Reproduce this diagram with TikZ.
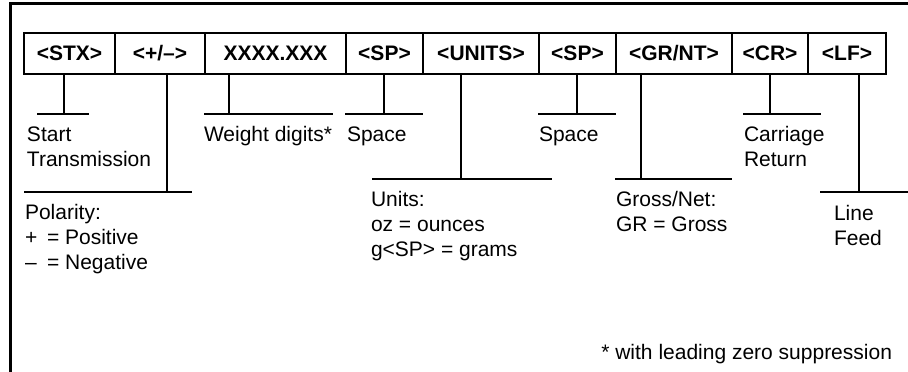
\documentclass[tikz,border=0pt]{standalone}
\usepackage{fontspec}
\setmainfont{Liberation Sans}
\begin{document}
\begin{tikzpicture}[x=1pt, y=-1pt,
  cell/.style={draw, line width=1.2pt, minimum height=41pt, inner sep=0pt,
    outer sep=0pt, font=\fontsize{21}{25}\selectfont\bfseries},
  lbl/.style={anchor=base west, inner sep=0pt, outer sep=0pt,
    font=\fontsize{21}{25}\selectfont},
  lead/.style={line width=1.3pt},
  frame/.style={line width=2.5pt}]
\clip (0,0) rectangle (908,372);
% open frame along the top and left
\draw[frame] (10.5,400) -- (10.5,3.5) -- (930,3.5);

% the transmitted fields
\node[cell, minimum width=91pt]  (stx)   at (69.5,53.5)  {<STX>};
\node[cell, minimum width=90pt]  (pm)    at (160,53.5)   {<+/–>};
\node[cell, minimum width=141pt] (wt)    at (275.5,53.5) {XXXX.XXX};
\node[cell, minimum width=77pt]  (spa)   at (384.5,53.5) {<SP>};
\node[cell, minimum width=116pt] (units) at (481,53.5)   {<UNITS>};
\node[cell, minimum width=77pt]  (spb)   at (577.5,53.5) {<SP>};
\node[cell, minimum width=116pt] (grnt)  at (674,53.5)   {<GR/NT>};
\node[cell, minimum width=76pt]  (cr)    at (770,53.5)   {<CR>};
\node[cell, minimum width=78pt]  (lf)    at (847,53.5)   {<LF>};

% leader ends
\coordinate (stxT) at (64,114);   \coordinate (stxA) at (37,114);   \coordinate (stxB) at (89,114);
\coordinate (pmT) at (167,192);   \coordinate (pmA) at (24,192);    \coordinate (pmB) at (192,192);
\coordinate (wtT) at (229,114);   \coordinate (wtA) at (204,114);   \coordinate (wtB) at (333,114);
\coordinate (spaT) at (384,114);  \coordinate (spaA) at (345,114);  \coordinate (spaB) at (423,114);
\coordinate (unT) at (461,179);   \coordinate (unA) at (372,179);   \coordinate (unB) at (552,179);
\coordinate (spbT) at (577,114);  \coordinate (spbA) at (538,114);  \coordinate (spbB) at (616,114);
\coordinate (grT) at (641,179);   \coordinate (grA) at (615,179);   \coordinate (grB) at (732,179);
\coordinate (crT) at (770,114);   \coordinate (crA) at (743,114);   \coordinate (crB) at (821,114);
\coordinate (lfT) at (859,192);   \coordinate (lfA) at (820,192);   \coordinate (lfB) at (930,192);

\foreach \f/\t in {stx/stx, pm/pm, wt/wt, spa/spa, units/un, spb/spb, grnt/gr, cr/cr, lf/lf}{
  \draw[lead] (\f.south -| \t T) -- (\t T);
  \draw[lead] (\t A) -- (\t B);
}

% descriptions
\node[lbl] (st1) at (27,141) {Start};
\node[lbl] (st2) at (27,166) {Transmission};
\node[lbl] (wd)  at (204,141) {Weight digits*};
\node[lbl] (sa)  at (347,141) {Space};
\node[lbl] (sb)  at (539,141) {Space};
\node[lbl] (cr1) at (744,141) {Carriage};
\node[lbl] (cr2) at (744,166) {Return};
\node[lbl] (po1) at (25,219) {Polarity:};
\node[lbl] (po2) at (25,244) {\makebox[1.05em][l]{+}= Positive};
\node[lbl] (po3) at (25,269) {\makebox[1.05em][l]{–}= Negative};
\node[lbl] (un1) at (371,206) {Units:};
\node[lbl] (un2) at (371,231) {oz = ounces};
\node[lbl] (un3) at (371,256) {g<SP> = grams};
\node[lbl] (gr1) at (616,206) {Gross/Net:};
\node[lbl] (gr2) at (616,231) {GR = Gross};
\node[lbl] (lf1) at (834,220) {Line};
\node[lbl] (lf2) at (834,245) {Feed};
\node[lbl, anchor=base east] (note) at (892,359) {* with leading zero suppression};
\end{tikzpicture}
\end{document}
